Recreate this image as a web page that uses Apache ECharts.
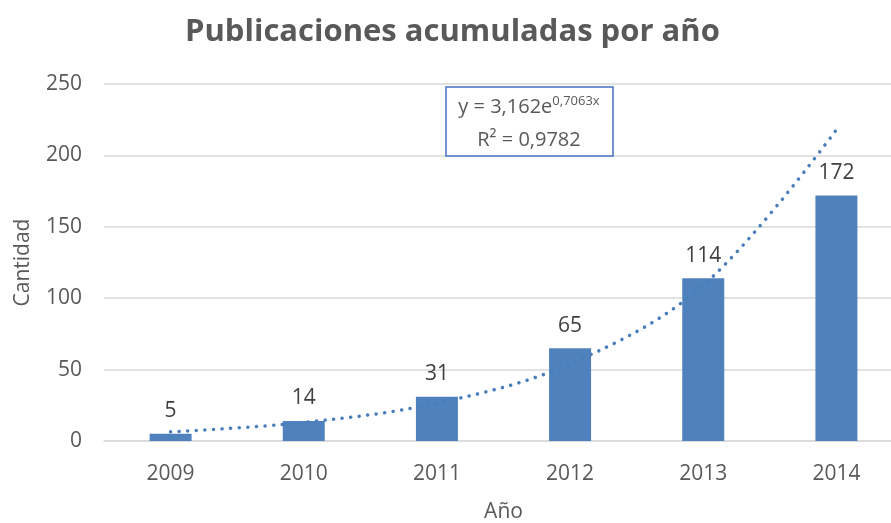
<!DOCTYPE html>
<html>
<head>
<meta charset="utf-8">
<script src="https://cdn.jsdelivr.net/npm/echarts@6/dist/echarts.min.js"></script>
<style>
  html, body { margin: 0; padding: 0; background: #fff; }
  #grafico { width: 891px; height: 523px; }
</style>
</head>
<body>
<div id="grafico"></div>
<script>
// Datos del gráfico
var anios = ["2009", "2010", "2011", "2012", "2013", "2014"];
var publicaciones = [5, 14, 31, 65, 114, 172];
// Línea de tendencia exponencial
var tendencia = [6.4, 13, 26.5, 54, 109, 218];
var ticksY = [0, 50, 100, 150, 200, 250];

var fuente = "Open Sans";
var gris = "#595959";

var myChart = echarts.init(document.getElementById("grafico"));

var option = {
  backgroundColor: "#ffffff",
  animation: false,
  title: {
    text: "Publicaciones acumuladas por año",
    left: 180,
    top: 12,
    textStyle: {
      fontFamily: fuente,
      fontSize: 31,
      fontWeight: "bold",
      color: gris,
    },
  },
  grid: {
    left: 104,
    top: 84,
    width: 799,
    bottom: 82,
    containLabel: false,
    outerBoundsMode: "none",
  },
  xAxis: {
    type: "category",
    data: anios,
    name: "Año",
    nameLocation: "middle",
    nameGap: 61,
    nameTextStyle: { fontFamily: fuente, fontSize: 21, color: gris },
    axisLine: { lineStyle: { color: "#d9d9d9", width: 1.5 } },
    axisTick: { show: false },
    axisLabel: {
      margin: 23,
      fontFamily: fuente,
      fontSize: 21,
      color: gris,
    },
  },
  yAxis: {
    type: "value",
    min: ticksY[0],
    max: ticksY[ticksY.length - 1],
    interval: 50,
    name: "Cantidad",
    nameLocation: "middle",
    nameGap: 70,
    nameTextStyle: { fontFamily: fuente, fontSize: 21, color: gris },
    axisLine: { show: false },
    axisTick: { show: false },
    splitLine: { lineStyle: { color: "#d9d9d9", width: 1.5 } },
    axisLabel: {
      margin: 22,
      fontFamily: fuente,
      fontSize: 21,
      color: gris,
    },
  },
  graphic: [
    {
      type: "rect",
      shape: { x: 446, y: 87, width: 167, height: 69 },
      style: { fill: "#ffffff", stroke: "#4472C4", lineWidth: 1.5 },
      z: 10,
    },
    {
      type: "text",
      x: 529,
      y: 107,
      z: 11,
      style: {
        text: "{b|y = 3,162e}{s|0,7063x}",
        align: "center",
        verticalAlign: "middle",
        rich: {
          b: { fontFamily: fuente, fontSize: 20, fill: gris },
          s: { fontFamily: fuente, fontSize: 13, fill: gris, verticalAlign: "bottom", padding: [0, 0, 12, 0] },
        },
      },
    },
    {
      type: "text",
      x: 529,
      y: 140,
      z: 11,
      style: {
        text: "R² = 0,9782",
        align: "center",
        verticalAlign: "middle",
        fontFamily: fuente,
        fontSize: 20,
        fill: gris,
      },
    },
  ],
  series: [
    {
      name: "Publicaciones",
      type: "bar",
      data: publicaciones,
      barWidth: 42,
      itemStyle: { color: "#4F81BD" },
      label: {
        show: true,
        position: "top",
        distance: 12,
        fontFamily: fuente,
        fontSize: 21,
        color: "#404040",
      },
      z: 2,
    },
    {
      name: "Tendencia",
      type: "line",
      data: tendencia,
      smooth: 0.35,
      symbol: "none",
      lineStyle: {
        color: "#4A7EBB",
        width: 3.5,
        type: [0.1, 8.5],
        cap: "round",
      },
      z: 5,
    },
  ],
};

myChart.setOption(option);
</script>
</body>
</html>
